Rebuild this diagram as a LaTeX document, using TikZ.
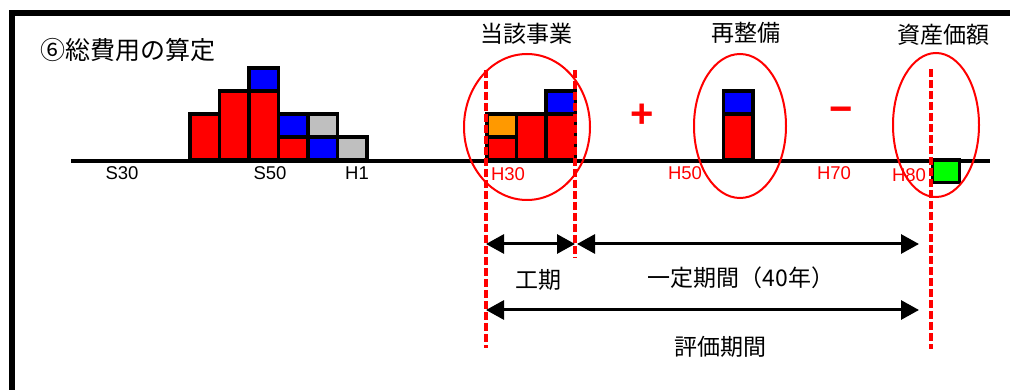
\documentclass[tikz,border=0pt]{standalone}
\usepackage{fontspec}
\setmainfont{Liberation Sans}
\newfontfamily\jpfont{Noto Sans CJK JP}
\usetikzlibrary{arrows.meta,shapes.geometric}

\definecolor{orng}{RGB}{255,153,0}
\def\colw{29.5}

\begin{document}
\begin{tikzpicture}[x=1pt,y=-1pt]
    \tikzstyle{bar}=[draw=black, line width=3.5pt]
    \tikzstyle{jlabel}=[font=\jpfont\fontsize{23}{23}\selectfont, inner sep=0pt]
    \tikzstyle{year}=[font=\fontsize{18.5}{18.5}\selectfont, inner sep=0pt]
    \tikzstyle{red year}=[year, text=red]
    \tikzstyle{sign}=[font=\bfseries\fontsize{40}{40}\selectfont, text=red, inner sep=0pt]
    \tikzstyle{ring}=[ellipse, draw=red, line width=2pt, inner sep=0pt]
    \tikzstyle{limit}=[draw=red, line width=3.5pt, dash pattern=on 8pt off 3pt]
    \tikzstyle{span}=[<->, >={Triangle[length=18pt,width=19pt]}, line width=3pt]

    \useasboundingbox (0,0) rectangle (1010,390);

    % Draw the frame
    \draw[line width=6pt] (12,390) -- (12,13.5) -- (1010,13.5);

    % Draw the time axis
    \draw[line width=4pt] (71,161) -- (990,161);

    % Draw the past investments
    \foreach \x/\ya/\yb/\c in {190/114/160/red, 219.5/91/160/red, 249/91/160/red,
            249/68/91/blue, 278.5/137/160/red, 278.5/114/137/blue,
            308/137/160/blue, 308/114/137/lightgray, 337.5/137/160/lightgray}
        \draw[bar, fill=\c] (\x,\ya) rectangle (\x+\colw,\yb);

    % Draw the project, the renewal and the residual value
    \foreach \x/\ya/\yb/\c in {487/137/160/red, 487/114/137/orng, 516.5/114/160/red,
            546/114/160/red, 546/91/114/blue, 723.5/114/160/red, 723.5/91/114/blue}
        \draw[bar, fill=\c] (\x,\ya) rectangle (\x+\colw,\yb);
    \draw[bar, fill=green] (932.5,160) rectangle (959.5,182.5);

    % Draw the dashed limits
    \draw[limit] (486,70) -- (486,348);
    \draw[limit] (575,70) -- (575,258);
    \draw[limit] (931,69) -- (931,349);

    % Circle the three terms
    \node[ring, minimum width=126pt, minimum height=146pt] (ring-30) at (527,127) {};
    \node[ring, minimum width=92pt, minimum height=144pt] (ring-50) at (740,126) {};
    \node[ring, minimum width=86pt, minimum height=144pt] (ring-80) at (936,125) {};

    % Periods
    \coordinate (kouki-l) at (486,244);
    \coordinate (kouki-r) at (575,244);
    \coordinate (ittei-l) at (577,244);
    \coordinate (ittei-r) at (919,244);
    \coordinate (hyoka-l) at (486,310);
    \coordinate (hyoka-r) at (919,310);
    \draw[span] (kouki-l) -- (kouki-r);
    \draw[span] (ittei-l) -- (ittei-r);
    \draw[span] (hyoka-l) -- (hyoka-r);

    % Years on the axis
    \node[year] (s30) at (122,173) {S30};
    \node[year] (s50) at (270,173) {S50};
    \node[year] (h1) at (357,173) {H1};
    \node[red year] (h30) at (508,174) {H30};
    \node[red year] (h50) at (685,173) {H50};
    \node[red year] (h70) at (834,173) {H70};
    \node[red year] (h80) at (909,175) {H80};

    % Annotate
    \node[jlabel, font=\jpfont\fontsize{25}{25}\selectfont] (title) at (128,50) {⑥総費用の算定};
    \node[jlabel] (project) at (526,34) {当該事業};
    \node[jlabel] (renewal) at (746,33) {再整備};
    \node[jlabel] (residual) at (943,35) {資産価額};
    \node[sign] (plus) at (642,116) {+};
    \node[sign] (minus) at (841,115) {−};
    \node[jlabel] (kouki) at (538,280) {工期};
    \node[jlabel] (ittei) at (741,278) {一定期間（40年）};
    \node[jlabel] (hyoka) at (720,347) {評価期間};
\end{tikzpicture}
\end{document}
